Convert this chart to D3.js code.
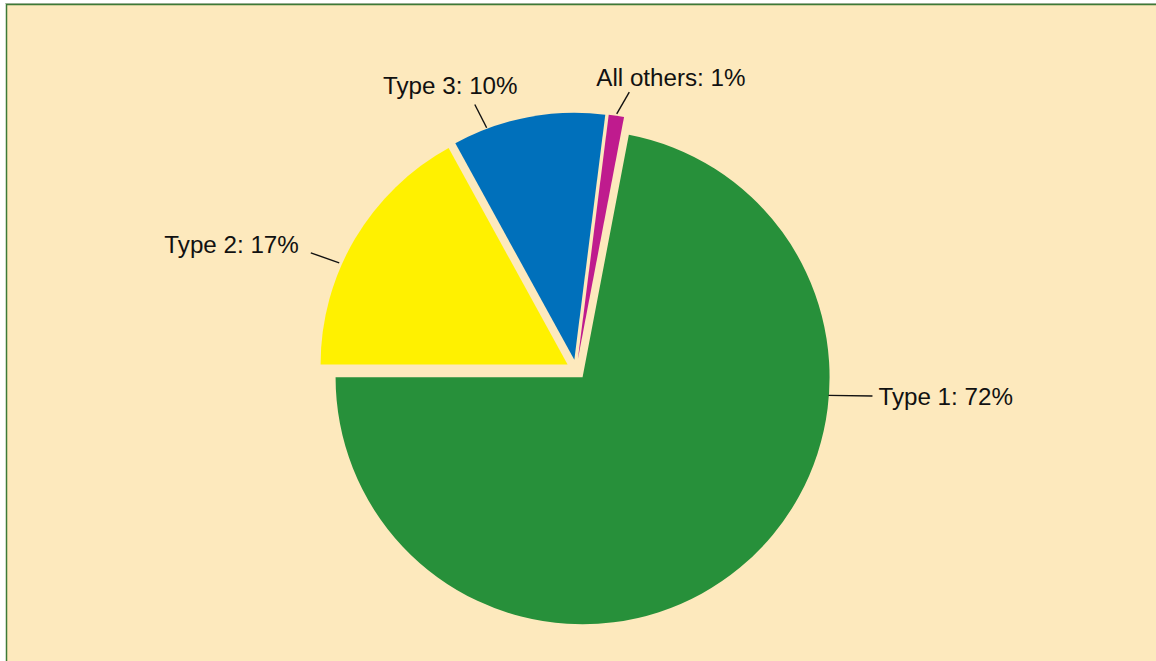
<!DOCTYPE html>
<html>
<head>
<meta charset="utf-8">
<script src="https://cdn.jsdelivr.net/npm/d3@7/dist/d3.min.js"></script>
<style>
html,body{margin:0;padding:0;background:#fff;}
svg{display:block;}
</style>
</head>
<body>
<svg id="chart" width="1156" height="661"></svg>
<script>
// Data
const categories = ["Type 1", "Type 2", "Type 3", "All others"];
const values = [72, 17, 10, 1];
const colors = ["#27903a", "#fff100", "#0070bb", "#bf1b8e"];

// Label layout (leader line angles in degrees clockwise from north, radii, text offsets)
const labelLayout = [
  {a1: 94.2, r1: 246.5, a2: 93.7, r2: 290.5, dx: 6, dy: 8.5, anchor: "start"},
  {a1: 294.0, r1: 250, a2: 293.5, r2: 280, dx: -12, dy: 0.5, anchor: "end"},
  {a1: 339.3, r1: 248, a2: 338.7, r2: 274, dx: -24.5, dy: -10, anchor: "middle"},
  {a1: 9.0, r1: 249, a2: 10.9, r2: 272.5, dx: -33, dy: -6.5, anchor: "start"}
];

const W = 1156, H = 661;
const svg = d3.select("#chart");

// frame
svg.append("rect").attr("x", 6).attr("y", 4).attr("width", W - 6).attr("height", H - 4).attr("fill", "#fde9bd");
svg.append("line").attr("x1", 5).attr("x2", W).attr("y1", 3.5).attr("y2", 3.5).attr("stroke", "#b9c0b0").attr("stroke-width", 1);
svg.append("line").attr("x1", 6).attr("x2", W).attr("y1", 4.5).attr("y2", 4.5).attr("stroke", "#3d7a37").attr("stroke-width", 1.5);
svg.append("line").attr("x1", 6.5).attr("x2", 6.5).attr("y1", 4).attr("y2", H).attr("stroke", "#3d7a37").attr("stroke-width", 1.5);

const cx = 576.2, cy = 369.6, R = 247, explode = 10;
const deg = Math.PI / 180;
const startA = 10.8 * deg;

const pie = d3.pie().sort(null).value(d => d).startAngle(startA).endAngle(startA + 2 * Math.PI);
const arcs = pie(values);
const arc = d3.arc().innerRadius(0).outerRadius(R);

const g = svg.append("g").attr("transform", `translate(${cx},${cy})`);

arcs.forEach((d, i) => {
  const mid = (d.startAngle + d.endAngle) / 2;
  const ox = explode * Math.sin(mid), oy = -explode * Math.cos(mid);
  const sg = g.append("g").attr("transform", `translate(${ox},${oy})`);
  sg.append("path").attr("d", arc(d)).attr("fill", colors[i]);
  const L = labelLayout[i];
  const p1 = [L.r1 * Math.sin(L.a1 * deg), -L.r1 * Math.cos(L.a1 * deg)];
  const p2 = [L.r2 * Math.sin(L.a2 * deg), -L.r2 * Math.cos(L.a2 * deg)];
  sg.append("line").attr("x1", p1[0]).attr("y1", p1[1]).attr("x2", p2[0]).attr("y2", p2[1])
    .attr("stroke", "#111").attr("stroke-width", 1.4);
  sg.append("text").attr("x", p2[0] + L.dx).attr("y", p2[1] + L.dy)
    .attr("text-anchor", L.anchor)
    .attr("font-family", "Liberation Sans, Arial, Helvetica, sans-serif")
    .attr("font-size", 24.2).attr("fill", "#111")
    .text(`${categories[i]}: ${values[i]}%`);
});
</script>
</body>
</html>
